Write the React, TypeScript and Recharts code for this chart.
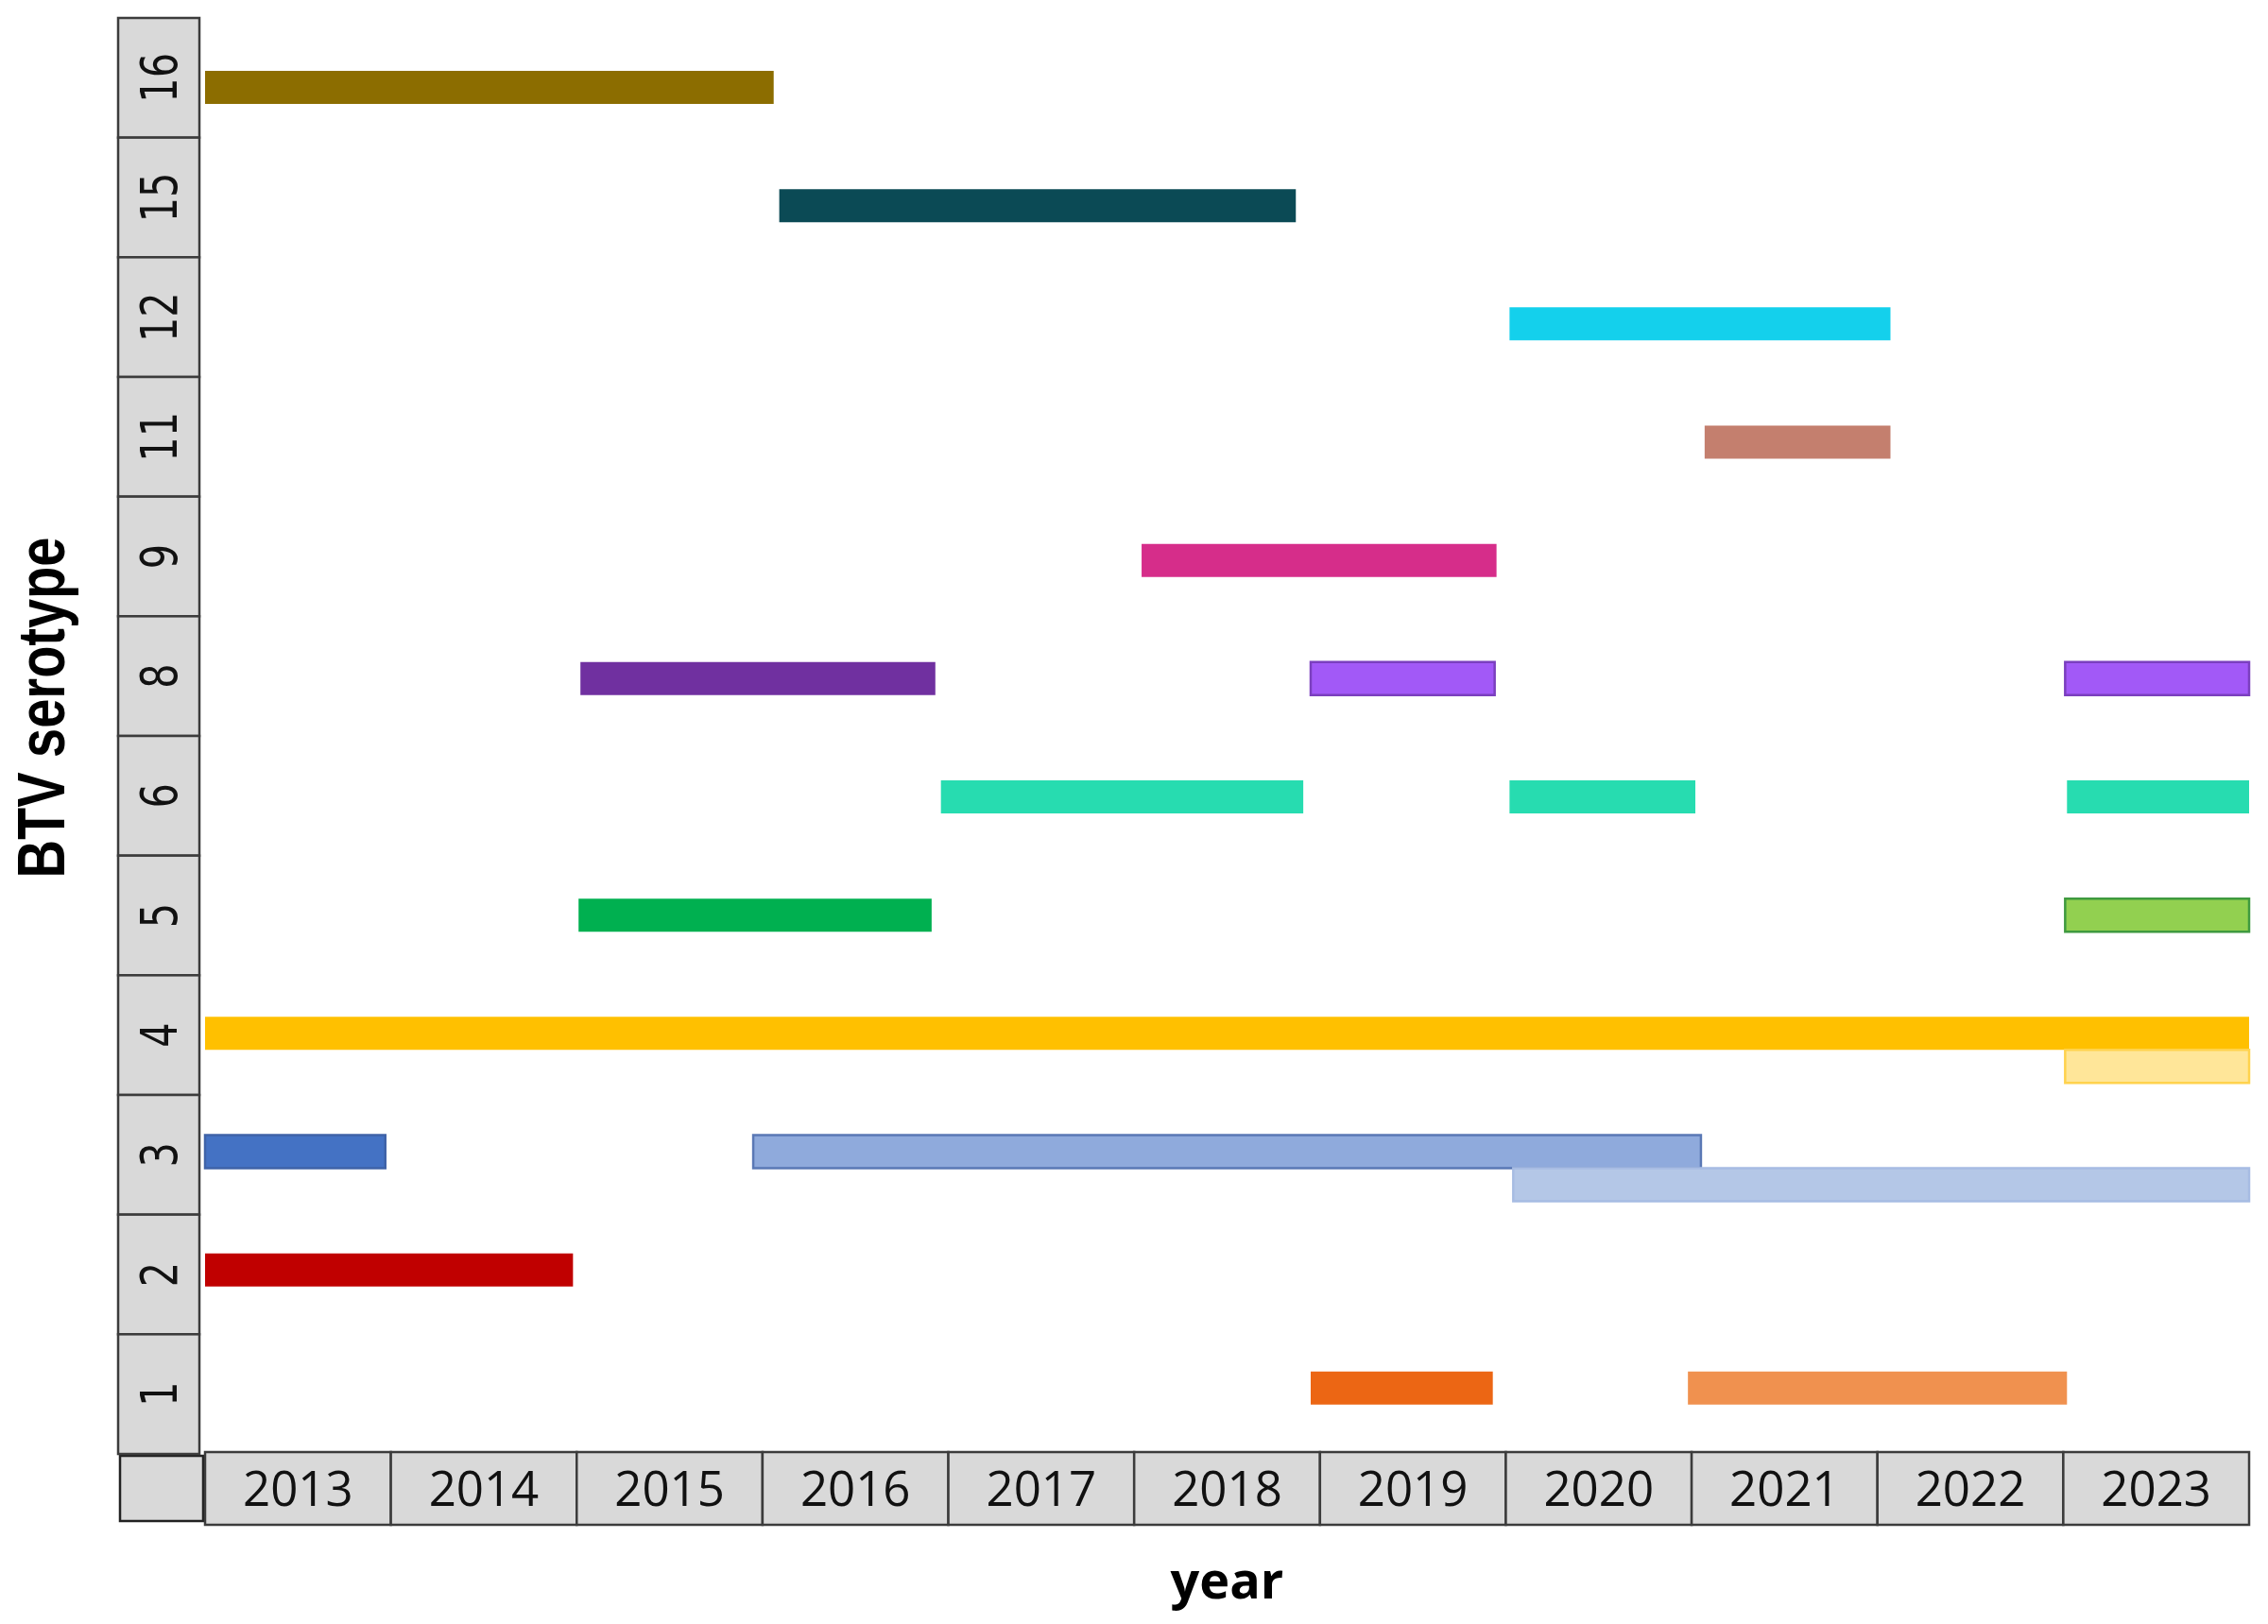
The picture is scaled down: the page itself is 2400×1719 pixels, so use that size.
import React from 'react';
import { BarChart, Bar, XAxis, YAxis, Rectangle } from 'recharts';

// BTV serotypes, top row first
const SEROTYPES = ['16', '15', '12', '11', '9', '8', '6', '5', '4', '3', '2', '1'];
const YEARS = [2013, 2014, 2015, 2016, 2017, 2018, 2019, 2020, 2021, 2022, 2023];

// [serotype, from, to] in (fractional) years
const PERIODS: [string, number, number][] = [
  ['16', 2013, 2016.06],
  ['15', 2016.09, 2018.87],
  ['12', 2020.02, 2022.07],
  ['11', 2021.07, 2022.07],
  ['9', 2018.04, 2019.95],
  ['8', 2015.02, 2016.93],
  ['8', 2018.95, 2019.94],
  ['8', 2023.01, 2024],
  ['6', 2016.96, 2018.91],
  ['6', 2020.02, 2021.02],
  ['6', 2023.02, 2024],
  ['5', 2015.01, 2016.91],
  ['5', 2023.01, 2024],
  ['4', 2013, 2024],
  ['3', 2013, 2013.97],
  ['3', 2015.95, 2021.05],
  ['2', 2013, 2014.98],
  ['1', 2018.95, 2019.93],
  ['1', 2020.98, 2023.02],
];

// periods drawn in a second lane just below the row's main bar
const LOWER_PERIODS: [string, number, number][] = [
  ['4', 2023.01, 2024],
  ['3', 2020.04, 2024],
];

const PERIOD_FILLS = [
  '#8c6d00', '#0b4a55', '#14d0ec', '#c47f6e', '#d62d8a',
  '#7030a0', '#a259f7', '#a259f7',
  '#27dcb0', '#27dcb0', '#27dcb0',
  '#00b050', '#92d050',
  '#ffc000',
  '#4472c4', '#8faadc',
  '#c00000',
  '#ec6614', '#f0914f',
];
const PERIOD_STROKES = [
  'none', 'none', 'none', 'none', 'none',
  'none', '#7b3fbf', '#7b3fbf',
  'none', 'none', 'none',
  'none', '#3f9a3f',
  'none',
  '#3f63a8', '#5a78b5',
  'none',
  'none', 'none',
];
const LOWER_FILLS = ['#ffe699', '#b4c7e7'];
const LOWER_STROKES = ['#ffd24d', '#a7bce3'];

const W = 2400;
const H = 1719;
const PLOT_LEFT = 217;
const PLOT_RIGHT = 2380;
const PLOT_TOP = 19;
const PLOT_BOTTOM = 1539;
const BAR = 35;
const YEAR_W = (PLOT_RIGHT - PLOT_LEFT) / YEARS.length;
const ROW_H = (PLOT_BOTTOM - PLOT_TOP) / SEROTYPES.length;
const BOX_FILL = '#d9d9d9';
const BOX_STROKE = '#3c3c3c';

const rows: any[] = SEROTYPES.map(s => ({ serotype: s }));
PERIODS.forEach(([s, from, to], i) => {
  rows[SEROTYPES.indexOf(s)][`p${i}`] = [from, to];
});
LOWER_PERIODS.forEach(([s, from, to], i) => {
  rows[SEROTYPES.indexOf(s)][`q${i}`] = [from, to];
});

const SerotypeTick = ({ y, payload }: any) => {
  const cx = 168;
  return (
    <g>
      <rect x={125} y={y - ROW_H / 2} width={86} height={ROW_H} fill={BOX_FILL} stroke={BOX_STROKE} strokeWidth={2.5} />
      <text
        transform={`translate(${cx}, ${y}) rotate(-90) scale(1, 1.17)`}
        textAnchor="middle"
        dy="0.36em"
        fontFamily="'DejaVu Sans Condensed', 'DejaVu Sans', sans-serif"
        fontSize={46}
        fill="#111"
      >
        {payload.value}
      </text>
    </g>
  );
};

const YearTick = ({ x, payload, index }: any) => {
  const top = 1537;
  const h = 77;
  return (
    <g>
      {index === 0 && (
        <rect x={127} y={1541} width={88} height={69} fill={BOX_FILL} stroke="#222" strokeWidth={2.5} />
      )}
      <rect x={x} y={top} width={YEAR_W} height={h} fill={BOX_FILL} stroke={BOX_STROKE} strokeWidth={2.5} />
      <text
        x={x + YEAR_W / 2}
        y={top + h / 2}
        dy="0.36em"
        textAnchor="middle"
        fontFamily="'Open Sans', sans-serif"
        fontSize={51}
        fill="#111"
      >
        {payload.value}
      </text>
    </g>
  );
};

const serotypeTitle = () => (
  <text
    transform="translate(43, 749) rotate(-90) scale(1, 1.25)"
    textAnchor="middle"
    dy="0.36em"
    fontFamily="'Liberation Sans', Arial, sans-serif"
    fontWeight="bold"
    fontSize={56}
    fill="#000"
  >
    BTV serotype
  </text>
);

const lowerShape = (props: any) => <Rectangle {...props} y={props.y + props.height} />;

export default function App() {
  return (
    <div style={{ width: W, height: H, background: '#fff' }}>
      <style>{'body { margin: 0; }'}</style>
      <BarChart
        width={W}
        height={H}
        data={rows}
        layout="vertical"
        barSize={BAR}
        barGap={-BAR}
        margin={{ top: PLOT_TOP, right: W - PLOT_RIGHT, bottom: 0, left: 0 }}
      >
        <XAxis
          type="number"
          domain={[2013, 2024]}
          ticks={YEARS}
          interval={0}
          axisLine={false}
          tickLine={false}
          tick={<YearTick />}
          height={H - PLOT_BOTTOM}
          label={{
            value: 'year',
            position: 'insideBottom',
            offset: 27,
            style: { fontFamily: "'Open Sans', sans-serif", fontWeight: 700, fontSize: 54, fill: '#000' },
          }}
        />
        <YAxis
          type="category"
          dataKey="serotype"
          interval={0}
          axisLine={false}
          tickLine={false}
          width={PLOT_LEFT}
          tick={<SerotypeTick />}
          label={serotypeTitle}
        />
        {/* bars sit a touch low in the upper rows of the original */}
        <YAxis yAxisId="lanes" type="category" dataKey="serotype" hide padding={{ top: 11, bottom: 7 }} />
        {PERIODS.map((_, i) => (
          <Bar
            key={`p${i}`}
            yAxisId="lanes"
            dataKey={`p${i}`}
            barSize={BAR}
            fill={PERIOD_FILLS[i]}
            stroke={PERIOD_STROKES[i]}
            strokeWidth={2.5}
            isAnimationActive={false}
          />
        ))}
        {LOWER_PERIODS.map((_, i) => (
          <Bar
            key={`q${i}`}
            yAxisId="lanes"
            dataKey={`q${i}`}
            barSize={BAR}
            fill={LOWER_FILLS[i]}
            stroke={LOWER_STROKES[i]}
            strokeWidth={2.5}
            shape={lowerShape}
            isAnimationActive={false}
          />
        ))}
      </BarChart>
    </div>
  );
}
